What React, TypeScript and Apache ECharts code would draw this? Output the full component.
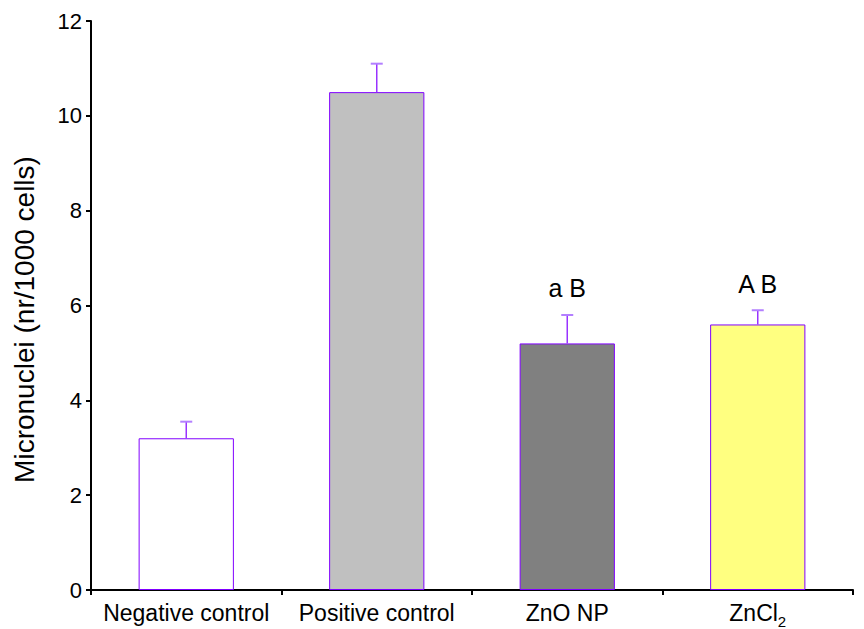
import React, { useEffect, useRef } from "react";
import * as echarts from "echarts";

const categories = ["Negative control", "Positive control", "ZnO NP", "ZnCl2"];
const means = [3.2, 10.5, 5.2, 5.6];
const errors = [0.35, 0.6, 0.6, 0.3];
const letters = ["", "", "a B", "A B"];
const barColors = ["#ffffff", "#c0c0c0", "#808080", "#ffff80"];
const yTicks = { min: 0, max: 12, interval: 2 };

const FONT = 'Arial, "Liberation Sans", sans-serif';

export default function App() {
  const ref = useRef<HTMLDivElement>(null);
  useEffect(() => {
    if (!ref.current) return;
    const chart = echarts.init(ref.current, null, { renderer: "svg" });
    const option: any = {
      animation: false,
      grid: { left: 91, right: 11, top: 21, bottom: 38 },
      xAxis: [
        {
          type: "category",
          data: categories,
          boundaryGap: true,
          axisLine: { lineStyle: { color: "#000", width: 2 } },
          axisTick: { show: true, length: 5, lineStyle: { color: "#000", width: 2 } },
          axisLabel: {
            interval: 0,
            color: "#000",
            fontFamily: FONT,
            fontSize: 23,
            lineHeight: 32,
            margin: 7,
            formatter: (v: string) => (v === "ZnCl2" ? "ZnCl{sub|2}" : v),
            rich: {
              sub: { fontSize: 15, lineHeight: 15, fontFamily: FONT, color: "#000", verticalAlign: "bottom" },
            },
          },
        },
        {
          type: "category",
          data: categories,
          position: "bottom",
          boundaryGap: true,
          axisLine: { show: false },
          axisTick: { show: true, inside: true, alignWithLabel: true, length: 3, lineStyle: { color: "#000", width: 1 } },
          axisLabel: { show: false },
        },
      ],
      yAxis: {
        type: "value",
        min: yTicks.min,
        max: yTicks.max,
        interval: yTicks.interval,
        name: "Micronuclei (nr/1000 cells)",
        nameLocation: "middle",
        nameGap: 53,
        nameTextStyle: { color: "#000", fontFamily: FONT, fontSize: 28, padding: [0, 28, 0, 0] },
        axisLine: { show: true, lineStyle: { color: "#000", width: 2 } },
        axisTick: { show: true, length: 5, lineStyle: { color: "#000", width: 2 } },
        axisLabel: { color: "#000", fontFamily: FONT, fontSize: 22, margin: 9 },
        splitLine: { show: false },
      },
      series: [
        {
          type: "bar",
          barWidth: "50%",
          data: means.map((v, i) => ({
            value: v,
            itemStyle: { color: barColors[i], borderColor: "#8000ff", borderWidth: 1 },
          })),
          z: 2,
        },
        {
          type: "custom",
          z: 3,
          data: means.map((v, i) => [i, v, v + errors[i], letters[i]]),
          renderItem: (params: any, api: any) => {
            const x = api.value(0);
            const base = api.coord([x, api.value(1)]);
            const top = api.coord([x, api.value(2)]);
            const letter = letters[params.dataIndex];
            const capHalf = 6;
            const children: any[] = [
              {
                type: "line",
                shape: { x1: base[0], y1: base[1], x2: top[0], y2: top[1] },
                style: { stroke: "#9933ff", lineWidth: 1.5 },
              },
              {
                type: "line",
                shape: { x1: top[0] - capHalf, y1: top[1], x2: top[0] + capHalf, y2: top[1] },
                style: { stroke: "#b37fff", lineWidth: 2 },
              },
            ];
            if (letter) {
              children.push({
                type: "text",
                x: top[0],
                y: top[1] - 14,
                style: {
                  text: letter,
                  fill: "#000",
                  font: `25px ${FONT}`,
                  align: "center",
                  verticalAlign: "bottom",
                },
              });
            }
            return { type: "group", children };
          },
        },
      ],
    };
    chart.setOption(option);
    return () => chart.dispose();
  }, []);
  return (
    <div
      ref={ref}
      style={{ position: "fixed", left: 0, top: 0, width: 864, height: 629, background: "#fff" }}
    />
  );
}
